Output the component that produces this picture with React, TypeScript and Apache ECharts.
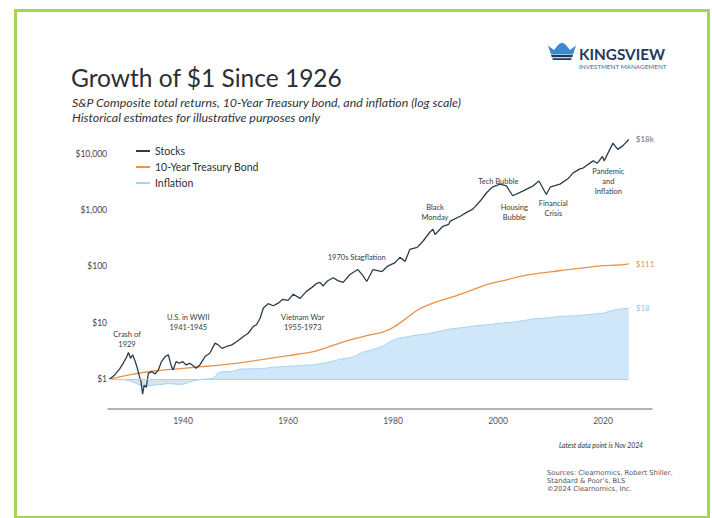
import React, { useEffect, useRef } from "react";
import * as echarts from "echarts";

// ---------- data ----------
const stockYears = [
  1926.0, 1927.0, 1928.0, 1928.6, 1929.3, 1929.6, 1930.0, 1930.4, 1930.9, 1931.3,
  1931.7, 1932.0, 1932.3, 1932.6, 1933.0, 1933.4, 1934.0, 1934.7, 1935.3, 1935.9,
  1936.6, 1937.2, 1937.7, 1938.1, 1938.7, 1939.3, 1939.9, 1940.6, 1941.3, 1942.0,
  1942.5, 1943.2, 1944.2, 1945.1, 1946.1, 1946.7, 1947.4, 1948.3, 1949.3, 1950.2,
  1951.5, 1952.4, 1953.4, 1954.0, 1954.7, 1955.3, 1956.2, 1957.2, 1958.2, 1959.0,
  1960.0, 1961.0, 1962.3, 1963.5, 1964.5, 1965.5, 1966.1, 1966.7, 1967.5, 1968.6,
  1969.5, 1970.5, 1971.8, 1973.3, 1974.2, 1975.0, 1976.2, 1977.9, 1978.9, 1980.4,
  1981.3, 1982.3, 1983.2, 1984.6, 1985.7, 1987.0, 1987.6, 1988.0, 1989.5, 1990.6,
  1990.9, 1992.8, 1994.1, 1995.2, 1996.6, 1997.9, 1999.0, 2000.4, 2001.6, 2002.8,
  2004.8, 2006.7, 2007.8, 2009.2, 2010.0, 2011.8, 2013.3, 2014.3, 2015.6, 2016.2,
  2018.1, 2018.9, 2019.9, 2020.2, 2021.9, 2022.8, 2023.8, 2024.9,
];
const stockValues = [
  1.0, 1.18, 1.55, 1.9, 2.5, 2.95, 2.33, 2.7, 2.04, 1.55,
  1.1, 0.9, 0.54, 0.78, 0.71, 1.26, 1.35, 1.23, 1.45, 2.04,
  2.5, 2.7, 1.78, 1.45, 2.04, 1.9, 2.04, 1.78, 1.9, 1.7,
  1.55, 1.78, 2.5, 2.87, 4.33, 4.04, 3.5, 3.78, 4.04, 4.6,
  5.7, 6.5, 8.6, 9.2, 12.1, 18.2, 21.8, 20, 22.5, 26,
  25, 32, 27, 36, 42, 50, 52, 45, 55, 63,
  56, 52, 72, 88, 70, 54, 88, 81, 100, 117,
  145, 123, 200, 218, 280, 405, 458, 370, 517, 560,
  640, 780, 920, 1040, 1450, 2080, 2600, 2900, 2700, 1800,
  2200, 2700, 3300, 1900, 2600, 2900, 3600, 4600, 5400, 5600,
  7500, 6800, 9000, 7500, 15500, 12000, 14000, 18000,
];

const bondYears = [
  1926, 1930, 1935, 1940, 1945, 1950, 1955, 1960, 1965, 1970, 1972, 1975, 1978,
  1980, 1982, 1985, 1988, 1991.5, 1995, 1998, 2001, 2004, 2007, 2010.5, 2013,
  2017, 2020, 2022, 2023.2, 2024.9,
];
const bondValues = [
  1.0, 1.2, 1.4, 1.55, 1.7, 1.9, 2.2, 2.6, 3.1, 4.4, 5.0, 5.9, 6.8,
  8.2, 11, 17.5, 23, 29, 38, 48, 56, 66, 74, 81, 87,
  96, 103, 105, 106, 111,
];

const inflationYears = [
  1926, 1927, 1928, 1929, 1930, 1931, 1932, 1933, 1934, 1935, 1936, 1937, 1938,
  1939, 1940, 1941, 1942, 1943, 1944, 1945, 1946, 1946.5, 1947, 1948, 1949, 1950,
  1951, 1952, 1953, 1954, 1955, 1956, 1957, 1958, 1959, 1960, 1961, 1962, 1963,
  1964, 1965, 1966, 1967, 1968, 1969, 1970, 1971, 1972, 1973, 1974, 1975, 1976,
  1977, 1978, 1979, 1980, 1981, 1982, 1983, 1984, 1985, 1986, 1987, 1988, 1989,
  1990, 1991, 1992, 1993, 1994, 1995, 1996, 1997, 1998, 1999, 2000, 2001, 2002,
  2003, 2004, 2005, 2006, 2007, 2008, 2009, 2010, 2011, 2012, 2013, 2014, 2015,
  2016, 2017, 2018, 2019, 2020, 2021, 2022, 2023, 2024.9,
];
const inflationValues = [
  1.0, 0.98, 0.97, 0.97, 0.92, 0.84, 0.76, 0.74, 0.77, 0.79, 0.8, 0.83, 0.82,
  0.8, 0.81, 0.87, 0.93, 0.97, 0.99, 1.0, 1.05, 1.25, 1.32, 1.36, 1.34, 1.42,
  1.5, 1.51, 1.52, 1.52, 1.53, 1.57, 1.61, 1.64, 1.66, 1.68, 1.7, 1.72, 1.75,
  1.76, 1.8, 1.86, 1.92, 2.01, 2.13, 2.25, 2.32, 2.4, 2.61, 2.93, 3.13, 3.29,
  3.51, 3.82, 4.33, 4.86, 5.28, 5.48, 5.69, 5.91, 6.13, 6.2, 6.47, 6.76, 7.07,
  7.51, 7.73, 7.96, 8.16, 8.38, 8.59, 8.88, 9.03, 9.17, 9.42, 9.74, 9.89, 10.1,
  10.3, 10.6, 11.0, 11.3, 11.8, 11.8, 12.1, 12.3, 12.7, 12.9, 13.1, 13.2, 13.3,
  13.6, 13.8, 14.1, 14.5, 14.7, 15.7, 16.7, 17.3, 18,
];

const seriesNames = ["Stocks", "10-Year Treasury Bond", "Inflation"];
const endLabels = ["$18k", "$111", "$18"];
const xTickYears = [1940, 1960, 1980, 2000, 2020];
const yTickValues = [1, 10, 100, 1000, 10000];

const annotations = [
  { text: "Crash of\n1929", x: 127, y: 339.5 },
  { text: "U.S. in WWII\n1941-1945", x: 188.3, y: 322 },
  { text: "Vietnam War\n1955-1973", x: 302.7, y: 322 },
  { text: "1970s Stagflation", x: 356.7, y: 257.3 },
  { text: "Black\nMonday", x: 435, y: 212.3 },
  { text: "Tech Bubble", x: 498.3, y: 181 },
  { text: "Housing\nBubble", x: 514.3, y: 212.3 },
  { text: "Financial\nCrisis", x: 553.3, y: 208 },
  { text: "Pandemic\nand\nInflation", x: 608.3, y: 181.7 },
];

const COLORS = {
  stocks: "#2c3d4f",
  bond: "#e8924a",
  inflLine: "#a6d3f1",
  inflArea: "#cfe7f8",
  text: "#2f3337",
  frame: "#a3d45a",
  navy: "#1f3a5c",
  crown: "#3b8ad0",
};

function pairs(xs: number[], ys: number[]) {
  return xs.map((x, i) => [x, ys[i]]);
}

function txt(text: string, x: number, y: number, extra: any = {}) {
  const align = extra.align || "left";
  const valign = extra.verticalAlign || "middle";
  return {
    type: "text",
    x,
    y,
    silent: true,
    style: {
      text,
      fill: extra.fill || COLORS.text,
      fontSize: extra.fontSize || 10,
      fontFamily: extra.fontFamily || "Lato",
      fontStyle: extra.fontStyle || "normal",
      fontWeight: extra.fontWeight || "normal",
      lineHeight: extra.lineHeight,
      align,
      verticalAlign: valign,
      textAlign: align,
      textVerticalAlign: valign,
    },
  };
}

export default function App() {
  const ref = useRef<HTMLDivElement>(null);

  useEffect(() => {
    if (!ref.current) return;
    const chart = echarts.init(ref.current, null, { renderer: "svg" });

    const graphic: any[] = [
      {
        type: "rect",
        silent: true,
        shape: { x: 15.5, y: 10.5, width: 693, height: 507 },
        style: { fill: "none", stroke: COLORS.frame, lineWidth: 3 },
      },
      txt("Growth of $1 Since 1926", 71, 77.5, { fontSize: 24.5, fill: "#2b2f33" }),
      txt(
        "S&P Composite total returns, 10-Year Treasury bond, and inflation (log scale)",
        72,
        102.5,
        { fontSize: 12.4, fontStyle: "italic" }
      ),
      txt("Historical estimates for illustrative purposes only", 72, 117.5, {
        fontSize: 12.4,
        fontStyle: "italic",
      }),
      // logo crown
      {
        type: "polygon",
        silent: true,
        shape: {
          points: [
            [548, 45.5], [554, 50], [558.5, 44.5], [562, 42.5], [565.5, 44.5],
            [570, 50], [576, 45.5], [573, 54.5], [551, 54.5],
          ],
        },
        style: { fill: COLORS.crown },
      },
      {
        type: "polygon",
        silent: true,
        shape: { points: [[551, 55], [573, 55], [572.2, 57.3], [551.8, 57.3]] },
        style: { fill: COLORS.navy },
      },
      {
        type: "polygon",
        silent: true,
        shape: { points: [[552.2, 58.2], [571.8, 58.2], [571, 60], [553, 60]] },
        style: { fill: COLORS.navy },
      },
      txt("KINGSVIEW", 579, 53.5, { fontSize: 15.3, fontWeight: "bold", fill: COLORS.navy }),
      txt("INVESTMENT MANAGEMENT", 579, 66.3, { fontSize: 6.4, fill: "#3a6a9a" }),
      // footer
      txt("Latest data point is Nov 2024", 601, 445, {
        fontSize: 6.8,
        fontStyle: "italic",
        align: "center",
      }),
      txt("Sources: Clearnomics, Robert Shiller,", 547, 473, {
        fontSize: 6.8,
        fontFamily: "DejaVu Sans",
        fill: "#555",
      }),
      txt("Standard & Poor\u2019s, BLS", 547, 481, {
        fontSize: 6.8,
        fontFamily: "DejaVu Sans",
        fill: "#555",
      }),
      txt("\u00a92024 Clearnomics, Inc.", 547, 489, {
        fontSize: 6.8,
        fontFamily: "DejaVu Sans",
        fill: "#555",
      }),
    ];
    annotations.forEach((a) =>
      graphic.push(
        txt(a.text, a.x, a.y, {
          fontSize: 7.5,
          lineHeight: 10,
          align: "center",
          fill: "#3a3a3a",
        })
      )
    );

    const endLabel = (label: string, color: string) => ({
      show: true,
      formatter: label,
      color,
      fontSize: 8,
      fontFamily: "Lato",
      distance: 7,
    });

    const option: any = {
      animation: false,
      backgroundColor: "#ffffff",
      textStyle: { fontFamily: "Lato" },
      grid: { left: 108, right: 60, top: 127, bottom: 109, containLabel: false },
      legend: {
        show: true,
        orient: "vertical",
        left: 136,
        top: 145,
        icon: "rect",
        itemWidth: 14,
        itemHeight: 2,
        itemGap: 4,
        padding: 0,
        textStyle: { fontSize: 10.5, color: "#2b2f33", fontFamily: "Lato", lineHeight: 12 },
        data: seriesNames,
        selectedMode: false,
      },
      xAxis: {
        type: "value",
        min: 1925.71,
        max: 2029.33,
        splitNumber: 5,
        axisLine: { show: true, lineStyle: { color: "#9a9a9a", width: 1.5 } },
        axisTick: { show: false },
        splitLine: { show: false },
        axisLabel: {
          show: true,
          margin: 7,
          fontSize: 8.5,
          color: "#555",
          fontFamily: "Lato",
          formatter: (v: number) =>
            xTickYears.some((t) => Math.abs(t - v) < 1e-6) ? String(Math.round(v)) : "",
        },
      },
      yAxis: {
        type: "log",
        logBase: 10,
        min: 0.293,
        max: 30000,
        axisLine: { show: false },
        axisTick: { show: false },
        splitLine: { show: false },
        minorTick: { show: false },
        minorSplitLine: { show: false },
        axisLabel: {
          show: true,
          margin: 1,
          fontSize: 8.5,
          color: "#444",
          fontFamily: "Lato",
          formatter: (v: number) => {
            const hit = yTickValues.find((t) => Math.abs(t - v) / t < 1e-6);
            return hit ? "$" + hit.toLocaleString("en-US") : "";
          },
        },
      },
      series: [
        {
          name: seriesNames[2],
          type: "line",
          data: pairs(inflationYears, inflationValues),
          showSymbol: false,
          symbol: "none",
          color: COLORS.inflLine,
          itemStyle: { color: COLORS.inflLine },
          lineStyle: { color: COLORS.inflLine, width: 1 },
          areaStyle: { color: COLORS.inflArea, origin: 1, opacity: 1 },
          endLabel: endLabel(endLabels[2], "#8cc8ee"),
          markLine: {
            silent: true,
            symbol: ["none", "none"],
            label: { show: false },
            lineStyle: { color: COLORS.inflLine, width: 1, type: "solid" },
            data: [[{ coord: [inflationYears[0], 1] }, { coord: [inflationYears[inflationYears.length - 1], 1] }]],
          },
          z: 1,
        },
        {
          name: seriesNames[1],
          type: "line",
          data: pairs(bondYears, bondValues),
          showSymbol: false,
          symbol: "none",
          smooth: 0.3,
          color: COLORS.bond,
          itemStyle: { color: COLORS.bond },
          lineStyle: { color: COLORS.bond, width: 1.3 },
          endLabel: endLabel(endLabels[1], COLORS.bond),
          z: 2,
        },
        {
          name: seriesNames[0],
          type: "line",
          data: pairs(stockYears, stockValues),
          showSymbol: false,
          symbol: "none",
          color: COLORS.stocks,
          itemStyle: { color: COLORS.stocks },
          lineStyle: { color: COLORS.stocks, width: 1.3 },
          endLabel: endLabel(endLabels[0], "#6a7582"),
          z: 3,
        },
      ],
      graphic,
    };

    chart.setOption(option);
    return () => chart.dispose();
  }, []);

  return (
    <div
      ref={ref}
      style={{ position: "absolute", left: 0, top: 0, width: 712, height: 518, background: "#fff" }}
    />
  );
}
